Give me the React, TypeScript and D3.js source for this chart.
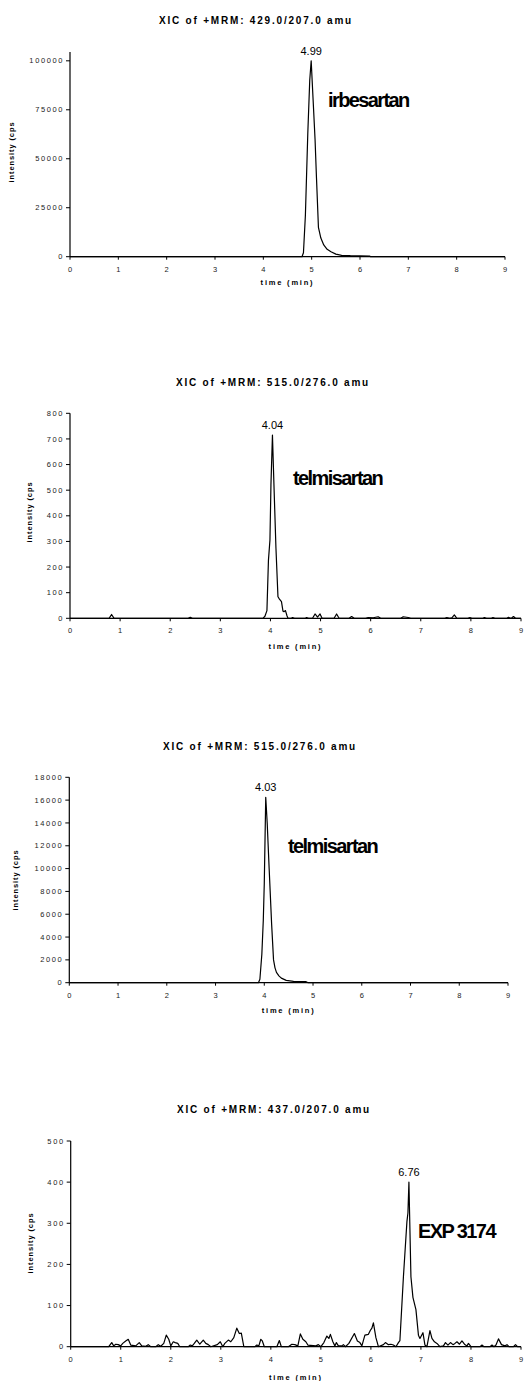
import React from 'react';
import * as d3 from 'd3';

// chromatogram traces: [time (min), intensity (cps)]
const irbesartanTrace: [number, number][] = [
  [0, 0], [4.8, 0], [4.83, 2000], [4.87, 21000], [4.92, 63000], [4.96, 90000], [4.99, 100000],
  [5.03, 80000], [5.07, 60000], [5.1, 40000], [5.14, 15000], [5.19, 9500], [5.25, 6000],
  [5.32, 3800], [5.4, 2500], [5.5, 1300], [5.62, 700], [5.8, 500], [6.0, 400], [6.2, 300],
  [6.22, 0], [9, 0],
];

const telmisartanLowTrace: [number, number][] = [
  [0, 0], [0.78, 0], [0.83, 15], [0.88, 0], [2.36, 0], [2.4, 4], [2.44, 0], [3.85, 0], [3.89, 8],
  [3.93, 30], [3.96, 226], [3.99, 305], [4.01, 520], [4.04, 715], [4.07, 520], [4.11, 273],
  [4.15, 84], [4.18, 75], [4.22, 65], [4.25, 28], [4.27, 26], [4.3, 30], [4.33, 10], [4.35, 0],
  [4.42, 0], [4.44, 3], [4.48, 0], [4.7, 0], [4.72, 3], [4.76, 0], [4.84, 0], [4.89, 17], [4.94, 5],
  [4.99, 17], [5.03, 0], [5.27, 0], [5.32, 17], [5.37, 0], [5.57, 0], [5.62, 7], [5.67, 0],
  [5.9, 0], [5.95, 3], [6.05, 2], [6.15, 6], [6.2, 0], [6.6, 0], [6.65, 6], [6.75, 3], [6.8, 0],
  [7.48, 0], [7.52, 3], [7.58, 0], [7.62, 2], [7.67, 13], [7.72, 0], [7.94, 0], [7.98, 3], [8.02, 0],
  [8.24, 0], [8.27, 3], [8.31, 0], [8.41, 0], [8.44, 3], [8.48, 0], [8.72, 0], [8.75, 4], [8.79, 0],
  [8.82, 2], [8.85, 7], [8.89, 0], [9, 0],
];

const telmisartanHighTrace: [number, number][] = [
  [0, 0], [3.88, 0], [3.91, 300], [3.95, 2500], [3.98, 5500], [4.0, 8700], [4.03, 16250],
  [4.06, 14000], [4.1, 10000], [4.15, 5200], [4.19, 2000], [4.22, 1300], [4.25, 900], [4.3, 600],
  [4.35, 400], [4.45, 200], [4.6, 120], [4.85, 100], [4.9, 0], [9, 0],
];

const exp3174Trace: [number, number][] = [
  [0, 0], [0.76, 0], [0.82, 10], [0.86, 2], [0.9, 6], [0.95, 5], [1.0, 2], [1.04, 8], [1.1, 14],
  [1.15, 18], [1.2, 4], [1.3, 2], [1.37, 10], [1.42, 2], [1.5, 1], [1.55, 5], [1.6, 0], [1.7, 0],
  [1.75, 5], [1.8, 1], [1.86, 8], [1.91, 28], [1.96, 18], [2.0, 2], [2.05, 12], [2.09, 10],
  [2.14, 8], [2.18, 0], [2.35, 0], [2.39, 4], [2.43, 2], [2.47, 8], [2.52, 16], [2.58, 6],
  [2.65, 16], [2.7, 8], [2.75, 5], [2.8, 0], [2.93, 5], [2.99, 12], [3.04, 0], [3.08, 8],
  [3.15, 16], [3.2, 12], [3.26, 22], [3.32, 45], [3.37, 32], [3.41, 33], [3.46, 0], [3.68, 0],
  [3.72, 4], [3.76, 2], [3.8, 18], [3.83, 14], [3.87, 0], [4.12, 0], [4.17, 15], [4.21, 0],
  [4.35, 0], [4.42, 6], [4.48, 5], [4.54, 2], [4.59, 31], [4.64, 18], [4.7, 12], [4.74, 4],
  [4.9, 2], [4.95, 5], [5.0, 0], [5.06, 10], [5.12, 26], [5.16, 20], [5.19, 30], [5.24, 12],
  [5.28, 2], [5.31, 10], [5.35, 2], [5.42, 2], [5.45, 5], [5.49, 0], [5.56, 8], [5.67, 32],
  [5.73, 14], [5.78, 10], [5.82, 2], [5.88, 28], [5.95, 30], [5.99, 40], [6.02, 45], [6.05, 58],
  [6.1, 22], [6.15, 0], [6.25, 5], [6.29, 10], [6.35, 5], [6.4, 6], [6.45, 4], [6.5, 0],
  [6.55, 10], [6.58, 15], [6.65, 170], [6.72, 304], [6.74, 325], [6.76, 400], [6.8, 170],
  [6.84, 120], [6.9, 90], [6.95, 28], [6.98, 20], [7.04, 34], [7.08, 4], [7.12, 0], [7.18, 39],
  [7.22, 20], [7.27, 12], [7.32, 8], [7.38, 0], [7.45, 2], [7.49, 10], [7.54, 4], [7.59, 10],
  [7.64, 5], [7.68, 8], [7.72, 12], [7.77, 6], [7.82, 14], [7.87, 6], [7.92, 2], [7.95, 8],
  [8.0, 0], [8.18, 0], [8.22, 4], [8.26, 0], [8.38, 0], [8.42, 4], [8.46, 0], [8.5, 4],
  [8.55, 19], [8.61, 5], [8.68, 2], [8.72, 5], [8.76, 0], [8.85, 0], [8.89, 5], [8.93, 0], [9, 0],
];

const timeTicks = [0, 1, 2, 3, 4, 5, 6, 7, 8, 9];
const irbesartanTicks = [0, 25000, 50000, 75000, 100000];
const telmisartanLowTicks = [0, 100, 200, 300, 400, 500, 600, 700, 800];
const telmisartanHighTicks = [0, 2000, 4000, 6000, 8000, 10000, 12000, 14000, 16000, 18000];
const exp3174Ticks = [0, 100, 200, 300, 400, 500];

const titles = [
  'XIC of +MRM: 429.0/207.0 amu',
  'XIC of +MRM: 515.0/276.0 amu',
  'XIC of +MRM: 515.0/276.0 amu',
  'XIC of +MRM: 437.0/207.0 amu',
];
const compounds = ['irbesartan', 'telmisartan', 'telmisartan', 'EXP 3174'];
const peakTimes = [4.99, 4.04, 4.03, 6.76];
const peakLabels = ['4.99', '4.04', '4.03', '6.76'];

const FONT = '"Liberation Sans", Arial, sans-serif';

const panels = [
  { trace: irbesartanTrace, ticks: irbesartanTicks, yMax: 104500,
    x0: 70, x1: 505, yBase: 256.7, yTop: 52, titleX: 256, titleY: 24,
    yLabelX: 14, yLabelY: 152, xLabelY: 285, compX: 328, compY: 107 },
  { trace: telmisartanLowTrace, ticks: telmisartanLowTicks, yMax: 800,
    x0: 70, x1: 521, yBase: 618.3, yTop: 413.3, titleX: 273, titleY: 386,
    yLabelX: 32, yLabelY: 512, xLabelY: 649, compX: 293, compY: 485 },
  { trace: telmisartanHighTrace, ticks: telmisartanHighTicks, yMax: 18000,
    x0: 69.3, x1: 508, yBase: 982.7, yTop: 777.3, titleX: 260, titleY: 750,
    yLabelX: 18, yLabelY: 880, xLabelY: 1013, compX: 288, compY: 853 },
  { trace: exp3174Trace, ticks: exp3174Ticks, yMax: 500,
    x0: 70.7, x1: 521, yBase: 1346.7, yTop: 1141, titleX: 274, titleY: 1113,
    yLabelX: 33, yLabelY: 1243, xLabelY: 1380, compX: 418, compY: 1238 },
];

const Panel = ({ p, i }) => {
  const x = d3.scaleLinear().domain([0, 9]).range([p.x0, p.x1]);
  const y = d3.scaleLinear().domain([0, p.yMax]).range([p.yBase, p.yTop]);
  const line = d3.line<[number, number]>()
    .x((d) => x(d[0]))
    .y((d) => y(d[1]));
  const peak = p.trace.find((d) => d[0] === peakTimes[i]) || [peakTimes[i], 0];

  return (
    <g fontFamily={FONT} fill="#000">
      <text x={p.titleX} y={p.titleY} textAnchor="middle" fontSize={10} fontWeight="bold" letterSpacing={1.8}>
        {titles[i]}
      </text>

      {/* y axis */}
      <line x1={p.x0} x2={p.x0} y1={p.yTop} y2={p.yBase} stroke="#000" strokeWidth={1.2} />
      {p.ticks.map((t) => (
        <g key={t}>
          <line x1={p.x0 - 4} x2={p.x0} y1={y(t)} y2={y(t)} stroke="#000" />
          <text x={p.x0 - 6} y={y(t) + 2.6} textAnchor="end" fontSize={7.5} letterSpacing={1.6} fill="#222">
            {t}
          </text>
        </g>
      ))}

      {/* x axis */}
      <line x1={p.x0} x2={p.x1} y1={p.yBase} y2={p.yBase} stroke="#000" strokeWidth={1.2} />
      {timeTicks.map((t) => (
        <g key={t}>
          <line x1={x(t)} x2={x(t)} y1={p.yBase} y2={p.yBase + 3} stroke="#000" />
          <text x={x(t)} y={p.yBase + 15} textAnchor="middle" fontSize={7.5} fill="#222">
            {t}
          </text>
        </g>
      ))}

      <text x={(p.x0 + p.x1) / 2} y={p.xLabelY} textAnchor="middle" fontSize={7.5} fontWeight="bold" letterSpacing={1.8}>
        time (min)
      </text>
      <text
        transform={`translate(${p.yLabelX},${p.yLabelY}) rotate(-90)`}
        textAnchor="middle"
        fontSize={7.5}
        fontWeight="bold"
        letterSpacing={0.9}
      >
        intensity (cps
      </text>

      <path d={line(p.trace) || ''} fill="none" stroke="#000" strokeWidth={1.2} strokeLinejoin="round" />

      <text x={x(peak[0])} y={y(peak[1]) - 6} textAnchor="middle" fontSize={11}>
        {peakLabels[i]}
      </text>
      <text x={p.compX} y={p.compY} fontSize={20} fontWeight="bold" letterSpacing={-1.6}>
        {compounds[i]}
      </text>
    </g>
  );
};

export default function App() {
  return (
    <svg
      width={524}
      height={1381}
      style={{ position: 'absolute', left: 0, top: 0, background: '#fff', display: 'block' }}
    >
      <rect width={524} height={1381} fill="#fff" />
      {panels.map((p, i) => (
        <Panel key={i} p={p} i={i} />
      ))}
    </svg>
  );
}
